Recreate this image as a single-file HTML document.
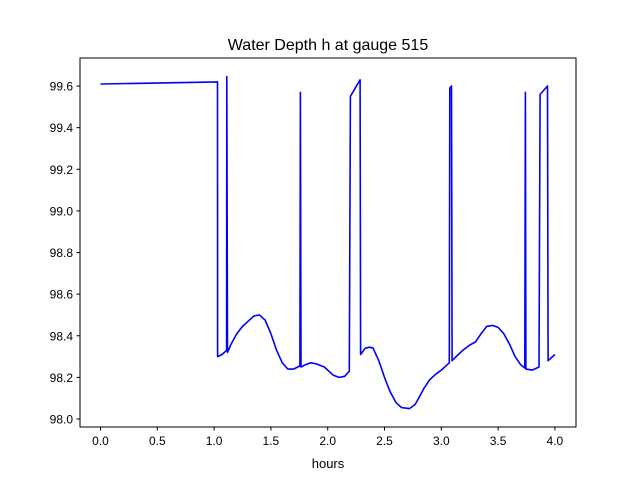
<!DOCTYPE html>
<html><head><meta charset="utf-8"><style>
body{margin:0;background:#fff;font-family:"Liberation Sans","DejaVu Sans",sans-serif;}
</style></head><body>
<svg id="chart" width="640" height="480" xmlns="http://www.w3.org/2000/svg">
<rect x="0" y="0" width="640" height="480" fill="#fff"/>
<text x="328" y="50" text-anchor="middle" font-size="16" fill="#000">Water Depth h at gauge 515</text>
<g id="ticks"></g>
<path id="line" fill="none" stroke="#0000ff" stroke-width="1.6" stroke-linejoin="round"/>
<rect x="80" y="58" width="496" height="369" fill="none" stroke="#000" stroke-width="1"/>
<text x="328" y="468" text-anchor="middle" font-size="13" fill="#000">hours</text>
</svg>
<script>
const xTicks=[0,0.5,1,1.5,2,2.5,3,3.5,4];
const xTickLabels=["0.0","0.5","1.0","1.5","2.0","2.5","3.0","3.5","4.0"];
const yTicks=[98.0,98.2,98.4,98.6,98.8,99.0,99.2,99.4,99.6];
const yTickLabels=["98.0","98.2","98.4","98.6","98.8","99.0","99.2","99.4","99.6"];
const hours=[0,1.03,1.031,1.07,1.11,1.112,1.118,1.15,1.2,1.25,1.3,1.35,1.4,1.45,1.5,1.55,1.6,1.65,1.7,1.755,1.76,1.765,1.8,1.85,1.9,1.97,2.05,2.1,2.15,2.19,2.2,2.285,2.29,2.33,2.37,2.4,2.45,2.5,2.55,2.6,2.65,2.72,2.77,2.8,2.85,2.9,2.95,3.0,3.07,3.075,3.09,3.095,3.15,3.2,3.25,3.3,3.35,3.4,3.45,3.5,3.55,3.6,3.65,3.7,3.735,3.74,3.745,3.8,3.86,3.87,3.935,3.94,4.0];
const depth=[99.61,99.62,98.30,98.31,98.33,99.645,98.32,98.36,98.41,98.445,98.47,98.495,98.50,98.475,98.41,98.33,98.27,98.24,98.24,98.255,99.57,98.25,98.26,98.27,98.265,98.25,98.21,98.20,98.205,98.23,99.55,99.63,98.31,98.34,98.345,98.34,98.28,98.20,98.13,98.08,98.055,98.05,98.07,98.10,98.15,98.19,98.215,98.235,98.27,99.59,99.60,98.28,98.31,98.335,98.355,98.37,98.41,98.445,98.45,98.44,98.41,98.36,98.30,98.26,98.245,99.57,98.24,98.235,98.25,99.56,99.60,98.28,98.31];
const X=v=>100.5+v*113.6;
const Y=v=>419-(v-98)*208.1;
const NS="http://www.w3.org/2000/svg";
const g=document.getElementById('ticks');
function el(t,a){const e=document.createElementNS(NS,t);for(const k in a)e.setAttribute(k,a[k]);g.appendChild(e);return e;}
xTicks.forEach((v,i)=>{
 const l=el('line',{x1:X(v),x2:X(v),y1:427,y2:430.5,stroke:'#000'});
 
 
 const t=el('text',{x:X(v),y:445,'text-anchor':'middle','font-size':'12',fill:'#000'});
 
 
 t.textContent=xTickLabels[i];
});
yTicks.forEach((v,i)=>{
 const l=el('line',{x1:76.5,x2:80,y1:Y(v),y2:Y(v),stroke:'#000'});
 
 
 const t=el('text',{x:73,y:Y(v)+4.5,'text-anchor':'end','font-size':'12',fill:'#000'});
 
 
 t.textContent=yTickLabels[i];
});
document.getElementById('line').setAttribute('d',hours.map((h,i)=>(i?'L':'M')+X(h).toFixed(1)+','+Y(depth[i]).toFixed(1)).join(''));
</script>
</body></html>
